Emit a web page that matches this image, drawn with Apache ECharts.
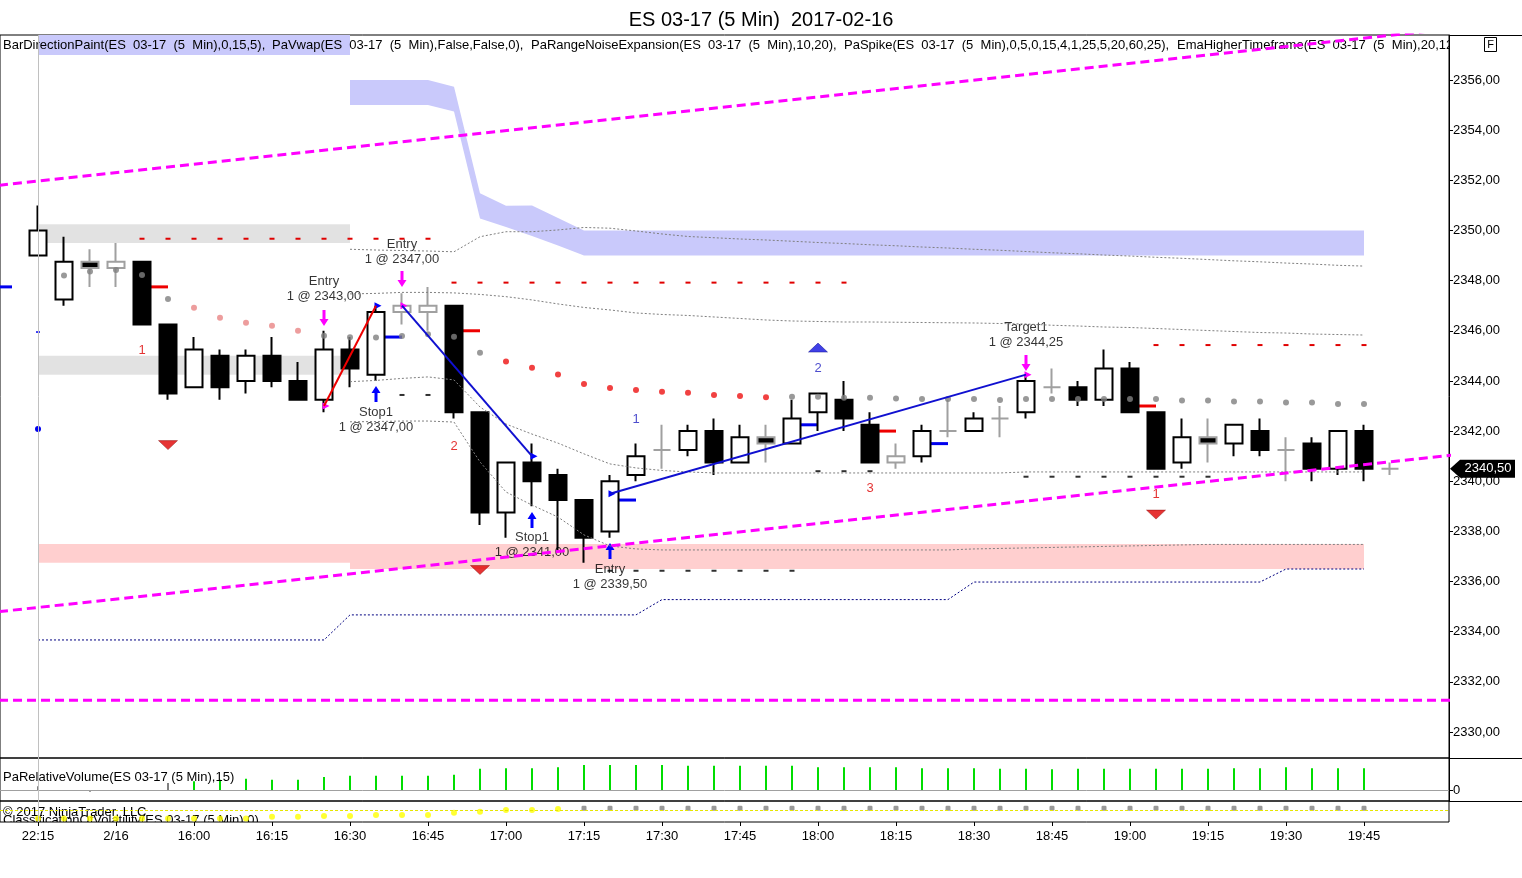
<!DOCTYPE html>
<html><head><meta charset="utf-8">
<script src="https://cdn.jsdelivr.net/npm/echarts@6/dist/echarts.min.js"></script>
<style>html,body{margin:0;padding:0;background:#fff}#c{width:1522px;height:878px}</style>
</head><body><div id="c"></div>
<script>
// ---------------- DATA ----------------
const timeLabels = ['22:15','2/16','16:00','16:15','16:30','16:45','17:00','17:15','17:30','17:45','18:00','18:15','18:30','18:45','19:00','19:15','19:30','19:45'];
const priceTicks = [2330,2332,2334,2336,2338,2340,2342,2344,2346,2348,2350,2352,2354,2356];
// [open, close, low, high] per 5-min bar
const ohlc = [
 [2349.00,2350.00,2349.00,2351.00],[2347.25,2348.75,2347.00,2349.75],[2348.75,2348.50,2347.75,2349.25],
 [2348.50,2348.75,2347.75,2349.50],[2348.75,2346.25,2346.25,2348.75],[2346.25,2343.50,2343.25,2346.25],
 [2343.75,2345.25,2343.75,2345.75],[2345.00,2343.75,2343.25,2345.25],[2344.00,2345.00,2343.50,2345.25],
 [2345.00,2344.00,2343.75,2345.75],[2344.00,2343.25,2343.25,2344.75],[2343.25,2345.25,2342.75,2346.00],
 [2345.25,2344.50,2343.75,2345.75],[2344.25,2346.75,2344.00,2347.00],[2346.75,2347.00,2346.25,2347.50],
 [2346.75,2347.00,2346.00,2347.75],[2347.00,2342.75,2342.50,2347.00],[2342.75,2338.75,2338.25,2342.75],
 [2338.75,2340.75,2337.75,2340.75],[2340.75,2340.00,2339.00,2341.50],[2340.25,2339.25,2337.25,2340.50],
 [2339.25,2337.75,2336.75,2339.25],[2338.00,2340.00,2337.75,2340.25],[2340.25,2341.00,2340.00,2341.50],
 [2341.25,2341.25,2340.50,2342.25],[2341.25,2342.00,2341.00,2342.25],[2342.00,2340.75,2340.25,2342.50],
 [2340.75,2341.75,2340.75,2342.25],[2341.75,2341.50,2340.75,2342.25],[2341.50,2342.50,2341.50,2343.25],
 [2342.75,2343.50,2342.00,2343.50],[2343.25,2342.50,2342.00,2344.00],[2342.25,2340.75,2340.75,2342.75],
 [2340.75,2341.00,2340.50,2341.50],[2341.00,2342.00,2340.75,2342.25],[2342.00,2342.00,2341.75,2343.25],
 [2342.00,2342.50,2342.00,2342.75],[2342.50,2342.50,2341.75,2343.00],[2342.75,2344.00,2342.50,2344.25],
 [2343.75,2343.75,2343.50,2344.50],[2343.75,2343.25,2343.00,2344.00],[2343.25,2344.50,2343.00,2345.25],
 [2344.50,2342.75,2342.75,2344.75],[2342.75,2340.50,2340.50,2342.75],[2340.75,2341.75,2340.50,2342.50],
 [2341.75,2341.50,2340.75,2342.50],[2341.50,2342.25,2341.00,2342.25],[2342.00,2341.25,2341.00,2342.50],
 [2341.25,2341.25,2340.00,2341.75],[2341.50,2340.50,2340.00,2341.75],[2340.50,2342.00,2340.25,2342.00],
 [2342.00,2340.50,2340.00,2342.25],[2340.50,2340.50,2340.25,2340.75]
];
const neutralBars = [2,3,14,15,24,28,33,35,37,39,45,48,52];

// PaVwap shaded band (bar index, upper, lower)
const vwapBandX     = [0,1,2,3,4,5,6,7,8,9,10,11,12,12,13,14,15,16,17,18,19,20,21,22,51];
const vwapBandUpper = [2358.5,2358.5,2358.5,2358.5,2358.5,2358.5,2358.5,2358.5,2358.5,2358.5,2358.5,2358.5,2358.5,2356.0,2356.0,2356.0,2356.0,2355.73,2351.48,2350.99,2351.0,2350.5,2350.0,2350.0,2350.0];
const vwapBandLower = [2357.0,2357.0,2357.0,2357.0,2357.0,2357.0,2357.0,2357.0,2357.0,2357.0,2357.0,2357.0,2357.0,2355.0,2355.0,2355.0,2355.0,2354.74,2350.48,2350.14,2349.78,2349.4,2349.0,2349.0,2349.0];

// Zones [fromBar, toBar, top, bottom]
const grayZones = [[0,12,2350.25,2349.5],[0,12,2345.0,2344.25]];
const pinkZones = [[0,12,2337.5,2336.75],[12,51,2337.5,2336.5]];

// thin dotted VWAP bands, starting at bar 12
const bandStart = 12;
const vwapLineA = [2349.25,2349.22,2349.20,2349.18,2349.15,2349.75,2349.95,2349.95,2350.02,2350.12,2350.09,2349.98,2349.86,2349.76,2349.71,2349.66,2349.62,2349.57,2349.52,2349.48,2349.43,2349.39,2349.34,2349.30,2349.25,2349.21,2349.16,2349.11,2349.07,2349.02,2348.98,2348.93,2348.89,2348.84,2348.79,2348.75,2348.70,2348.66,2348.61,2348.58];
const vwapLineB = [2347.47,2347.49,2347.53,2347.53,2347.51,2347.45,2347.36,2347.23,2347.07,2346.93,2346.83,2346.71,2346.65,2346.61,2346.55,2346.49,2346.43,2346.39,2346.37,2346.35,2346.35,2346.34,2346.33,2346.32,2346.31,2346.29,2346.27,2346.22,2346.19,2346.15,2346.13,2346.09,2346.05,2346.01,2345.97,2345.93,2345.91,2345.87,2345.85,2345.83];
const vwapLineC = [2343.97,2344.02,2344.10,2344.16,2344.04,2342.96,2342.28,2341.88,2341.52,2341.09,2340.69,2340.53,2340.43,2340.37,2340.33,2340.33,2340.33,2340.33,2340.33,2340.33,2340.33,2340.33,2340.33,2340.33,2340.33,2340.33,2340.37,2340.37,2340.37,2340.37,2340.37,2340.37,2340.37,2340.37,2340.37,2340.37,2340.37,2340.37,2340.37,2340.37];
const vwapLineD = [2342.37,2342.38,2342.40,2342.40,2342.36,2340.77,2339.57,2339.05,2338.57,2337.86,2337.42,2337.30,2337.26,2337.26,2337.26,2337.26,2337.26,2337.26,2337.26,2337.26,2337.26,2337.26,2337.26,2337.26,2337.30,2337.32,2337.34,2337.36,2337.38,2337.40,2337.42,2337.44,2337.46,2337.48,2337.48,2337.48,2337.48,2337.48,2337.48,2337.48];

const navyLevels = [2333.67,2333.67,2333.67,2333.67,2333.67,2333.67,2333.67,2333.67,2333.67,2333.67,2333.67,2333.67,
 2334.67,2334.67,2334.67,2334.67,2334.67,2334.67,2334.67,2334.67,2334.67,2334.67,2334.67,2334.67,
 2335.28,2335.28,2335.28,2335.28,2335.28,2335.28,2335.28,2335.28,2335.28,2335.28,2335.28,2335.28,
 2335.98,2335.98,2335.98,2335.98,2335.98,2335.98,2335.98,2335.98,2335.98,2335.98,2335.98,2335.98,
 2336.5,2336.5,2336.5,2336.5];

// EMA higher timeframe dots
const emaValues = [null,2348.20,2348.36,2348.42,2348.22,2347.27,2346.92,2346.52,2346.32,2346.20,2346.00,2345.80,2345.74,2345.73,2345.79,2345.86,2345.76,2345.12,2344.77,2344.53,2344.26,2343.88,2343.72,2343.64,2343.57,2343.53,2343.44,2343.40,2343.35,2343.37,2343.37,2343.33,2343.33,2343.30,2343.28,2343.28,2343.28,2343.24,2343.28,2343.28,2343.28,2343.28,2343.28,2343.28,2343.22,2343.22,2343.18,2343.18,2343.14,2343.14,2343.08,2343.08];
const emaSalmonBars = [6,7,8,9,10];
const emaRedBars = [18,19,20,21,22,23,24,25,26,27,28];

// range-noise dashes [bar, price]
const redDashes = [[4,2349.67],[5,2349.67],[6,2349.67],[7,2349.67],[8,2349.67],[9,2349.67],[10,2349.67],[11,2349.67],[12,2349.67],[13,2349.67],[14,2349.67],[15,2349.67],
 [16,2347.92],[17,2347.92],[18,2347.92],[19,2347.92],[20,2347.92],[21,2347.92],[22,2347.92],[23,2347.92],[24,2347.92],[25,2347.92],[26,2347.92],[27,2347.92],[28,2347.92],[29,2347.92],[30,2347.92],[31,2347.92],
 [43,2345.43],[44,2345.43],[45,2345.43],[46,2345.43],[47,2345.43],[48,2345.43],[49,2345.43],[50,2345.43],[51,2345.43]];
const darkDashes = [[14,2343.44],[15,2343.44],[22,2336.43],[23,2336.43],[24,2336.43],[25,2336.43],[26,2336.43],[27,2336.43],[28,2336.43],[29,2336.43],
 [30,2340.4],[31,2340.4],[32,2340.4],[38,2340.18],[39,2340.18],[40,2340.18],[41,2340.18],[42,2340.18],[43,2340.18],[44,2340.18],[45,2340.18]];

// short level marks [bar, price]
const blueMarks = [[-2,2347.75],[13,2345.75],[22,2339.25],[29,2342.25],[34,2341.5]];
const redMarks = [[4,2347.75],[16,2346.0],[32,2342.0],[42,2343.0]];
const blueDots = [[0,2342.08]];
const blueTicks = [[0,2345.95]];

// trades
const tradeRed = [[11,2343.0],[13,2347.0]];
const tradeBlue1 = [[14,2347.0],[19,2341.0]];
const tradeBlue2 = [[22,2339.5],[38,2344.25]];
const entryArrows = [[11,2346.51],[14,2348.06],[38,2344.71]];
const stopArrows = [[13,2343.48],[19,2338.45],[22,2337.22]];
const magentaFills = [[11,2343.0],[14,2347.0],[38,2344.25]];
const blueFills = [[13,2347.0],[19,2341.0],[22,2339.5]];
const tradeTexts = [[11,2347.65,'Entry\n1 @ 2343,00'],[14,2349.16,'Entry\n1 @ 2347,00'],[13,2342.46,'Stop1\n1 @ 2347,00'],
 [19,2337.48,'Stop1\n1 @ 2341,00'],[22,2336.2,'Entry\n1 @ 2339,50'],[38,2345.85,'Target1\n1 @ 2344,25']];

// PaSpike
const spikeDown = [[5,2341.44],[17,2336.46],[43,2338.67]];
const spikeUp = [[30,2345.33]];
const redCounts = [[4,2345.23,'1'],[16,2341.4,'2'],[32,2339.73,'3'],[43,2339.49,'1']];
const blueCounts = [[23,2342.48,'1'],[30,2344.48,'2']];

// channel lines [bar, price]
const channelUpper = [[-1.5,2351.8],[55,2358.12]];
const channelLower = [[-1.5,2334.8],[55,2341.11]];
const channelFlat = [[-1.5,2331.27],[55,2331.27]];

// relative volume (null = none)
const volumeValues = [0.4,null,-0.15,null,null,0.73,0.9,1.07,1.17,1.07,1.07,1.33,1.47,1.47,1.47,1.47,1.57,2.17,2.23,2.23,2.33,2.57,2.57,2.57,2.57,2.47,2.47,2.47,2.47,2.47,2.33,2.33,2.33,2.33,2.23,2.23,2.23,2.17,2.17,2.13,2.17,2.17,2.17,2.17,2.17,2.17,2.23,2.23,2.33,2.23,2.23,2.23];
const volumeGreenFrom = 6;
// volatility classification
const volatilityValues = [3.5,3.5,3.5,3.5,3.5,3.5,3.5,3.5,3.5,5.3,5.3,6,6,7,7,7,9.3,10.3,12,12,13,13.7,13.7,13.7,13.7,13.7,13.7,13.7,13.7,13.7,13.7,13.7,13.7,13.7,13.7,13.7,13.7,13.7,13.7,13.7,13.7,13.7,13.7,13.7,13.7,13.7,13.7,13.7,13.7,13.7,13.7,13.7];
const volatilityYellowUntil = 20;
const volatilityLevel = 11.3;

// ---------------- LAYOUT ----------------
const FONT = '"Liberation Sans", Arial, sans-serif';
const PLOT_W = 1449, BAR_PX = 26, FIRST_X = 38;
const xMin = -FIRST_X / BAR_PX, xMax = (PLOT_W - FIRST_X) / BAR_PX;
const PX_PER_PT = 652 / 26;
const yMin = 2330 - 26 / PX_PER_PT, yMax = 2356 + 45 / PX_PER_PT;
const fmtPrice = v => v.toFixed(2).replace('.', ',');
const lastClose = ohlc[ohlc.length - 1][1];

const chart = echarts.init(document.getElementById('c'));

const candleData = ohlc.map((r, i) => {
  const item = { value: [i, r[0], r[1], r[2], r[3]] };
  if (neutralBars.indexOf(i) >= 0) item.itemStyle = { borderColor: '#a0a0a0', borderColor0: '#a0a0a0', borderColorDoji: '#a0a0a0' };
  return item;
});

function rectZones(zones, fill) {
  return { type: 'custom', xAxisIndex: 0, yAxisIndex: 0, clip: true, silent: true, data: zones,
    renderItem: (p, api) => {
      const a = api.coord([api.value(0), api.value(2)]);
      const b = api.coord([api.value(1), api.value(3)]);
      return { type: 'rect', shape: { x: a[0], y: a[1], width: b[0] - a[0], height: b[1] - a[1] }, style: { fill } };
    } };
}
function bandLine(vals, color) {
  return { type: 'line', xAxisIndex: 0, yAxisIndex: 0, showSymbol: false, silent: true,
    data: vals.map((v, k) => [bandStart + k, v]), lineStyle: { color: color, width: 1, type: [2, 2] } };
}
function segMarks(marks, color) {
  return { type: 'custom', xAxisIndex: 0, yAxisIndex: 0, clip: true, silent: true, data: marks,
    renderItem: (p, api) => {
      const a = api.coord([api.value(0), api.value(1)]);
      const b = api.coord([api.value(0) + 1, api.value(1)]);
      return { type: 'line', shape: { x1: a[0], y1: a[1], x2: b[0], y2: b[1] }, style: { stroke: color, lineWidth: 3 } };
    } };
}
function textLayer(gi, anchor, items) {
  return { type: 'custom', xAxisIndex: gi, yAxisIndex: gi, clip: true, silent: true, data: [anchor],
    renderItem: (p) => {
      const cs = p.coordSys;
      return { type: 'group', children: items.map(it => ({ type: 'text', x: cs.x + it[0], y: cs.y + it[1],
        style: { text: it[2], fill: '#000', fontSize: it[3] || 13, fontFamily: FONT, textVerticalAlign: 'middle' } })) };
    } };
}
function scatter(data, sym, size, color, extra) {
  return Object.assign({ type: 'scatter', xAxisIndex: 0, yAxisIndex: 0, silent: true, data: data, symbol: sym,
    symbolSize: size, itemStyle: { color: color, opacity: 1 } }, extra || {});
}
function labels(data, color) {
  return { type: 'scatter', xAxisIndex: 0, yAxisIndex: 0, silent: true, data: data, symbolSize: 1,
    itemStyle: { color: 'rgba(0,0,0,0)' },
    label: { show: true, position: 'inside', formatter: p => p.data[2], color: color, fontSize: 13, fontFamily: FONT, lineHeight: 15, align: 'center' } };
}
const sessionLine = { silent: true, symbol: 'none', label: { show: false },
  lineStyle: { color: '#c0c0c0', width: 1, type: 'solid' }, data: [{ xAxis: 0 }] };

const series = [
  // lavender band
  { type: 'custom', xAxisIndex: 0, yAxisIndex: 0, clip: true, silent: true, data: [[0, 2340]],
    renderItem: (p, api) => {
      const pts = [];
      for (let k = 0; k < vwapBandX.length; k++) pts.push(api.coord([vwapBandX[k], vwapBandUpper[k]]));
      for (let k = vwapBandX.length - 1; k >= 0; k--) pts.push(api.coord([vwapBandX[k], vwapBandLower[k]]));
      return { type: 'polygon', shape: { points: pts }, style: { fill: '#c9c9fb' } };
    } },
  // header indicator text
  textLayer(0, [0, 2340], [
    [3, 10, 'BarDirectionPaint(ES  03-17  (5  Min),0,15,5),'],
    [272, 10, 'PaVwap(ES  03-17  (5  Min),False,False,0),'],
    [531, 10, 'PaRangeNoiseExpansion(ES  03-17  (5  Min),10,20),'],
    [844, 10, 'PaSpike(ES  03-17  (5  Min),0,5,0,15,4,1,25,5,20,60,25),'],
    [1177, 10, 'EmaHigherTimeframe(ES  03-17  (5  Min),20,120)']
  ]),
  rectZones(pinkZones, 'rgba(255,140,140,0.42)'),
  bandLine(vwapLineA, '#808080'), bandLine(vwapLineB, '#808080'), bandLine(vwapLineC, '#808080'), bandLine(vwapLineD, '#808080'),
  { type: 'line', xAxisIndex: 0, yAxisIndex: 0, showSymbol: false, silent: true,
    data: navyLevels.map((v, i) => [i, v]), lineStyle: { color: '#000080', width: 1, type: [2, 2] }, markLine: sessionLine },
  scatter(redDashes, 'rect', [5, 2], '#e00000'),
  scatter(darkDashes, 'rect', [5, 2], '#303030'),
  { type: 'candlestick', xAxisIndex: 0, yAxisIndex: 0, barWidth: 18, silent: true,
    encode: { x: 0, y: [1, 2, 3, 4] }, data: candleData,
    itemStyle: { color: '#ffffff', color0: '#000000', borderColor: '#000000', borderColor0: '#000000', borderColorDoji: '#000000', borderWidth: 2 } },
  rectZones(grayZones, 'rgba(160,160,160,0.3)'),
  scatter(emaValues.map((v, i) => v == null ? null : [i, v]).filter(d => d), 'circle', 6, '#808080', {
    itemStyle: { color: p => emaRedBars.indexOf(p.data[0]) >= 0 ? '#ee1111' : (emaSalmonBars.indexOf(p.data[0]) >= 0 ? '#e88484' : '#808080') } }),
  segMarks(blueMarks, '#0000ee'),
  segMarks(redMarks, '#ee0000'),
  scatter(blueDots, 'circle', 6, '#0000ee'),
  scatter(blueTicks, 'rect', [4, 1.5], '#0000ee'),
  { type: 'line', xAxisIndex: 0, yAxisIndex: 0, showSymbol: false, silent: true, data: tradeRed, lineStyle: { color: '#ee0000', width: 2 } },
  { type: 'line', xAxisIndex: 0, yAxisIndex: 0, showSymbol: false, silent: true, data: tradeBlue1, lineStyle: { color: '#1010d0', width: 2 } },
  { type: 'line', xAxisIndex: 0, yAxisIndex: 0, showSymbol: false, silent: true, data: tradeBlue2, lineStyle: { color: '#1010d0', width: 2 } },
  { type: 'line', xAxisIndex: 0, yAxisIndex: 0, showSymbol: false, silent: true, data: channelUpper, lineStyle: { color: '#ff00ff', width: 3, type: [9, 5] } },
  { type: 'line', xAxisIndex: 0, yAxisIndex: 0, showSymbol: false, silent: true, data: channelLower, lineStyle: { color: '#ff00ff', width: 3, type: [9, 5] } },
  { type: 'line', xAxisIndex: 0, yAxisIndex: 0, showSymbol: false, silent: true, data: channelFlat, lineStyle: { color: '#ff00ff', width: 3, type: [9, 5] } },
  scatter(entryArrows, 'path://M3,0L6,0L6,9L9,9L4.5,16L0,9L3,9Z', [9, 16], '#ff00ff'),
  scatter(stopArrows, 'path://M4.5,0L9,7L6,7L6,16L3,16L3,7L0,7Z', [9, 16], '#0000ff'),
  scatter(magentaFills, 'triangle', [7, 7], '#ff00ff', { symbolRotate: -90, symbolOffset: [2, 0] }),
  scatter(blueFills, 'triangle', [7, 7], '#0000ff', { symbolRotate: -90, symbolOffset: [2, 0] }),
  scatter(spikeDown, 'path://M0,0L20,0L10,10Z', [19, 9], '#e00000', { itemStyle: { color: '#e00000', borderColor: '#800000', borderWidth: 0.5 } }),
  scatter(spikeUp, 'path://M10,0L20,10L0,10Z', [19, 9], '#1010e0', { itemStyle: { color: '#1010e0', borderColor: '#000080', borderWidth: 0.5 } }),
  labels(tradeTexts, '#000'),
  labels(redCounts, '#dd0000'),
  labels(blueCounts, '#2020c0'),
  // volume panel
  { type: 'custom', xAxisIndex: 1, yAxisIndex: 1, clip: true, silent: true,
    data: volumeValues.map((v, i) => v == null ? null : [i, v]).filter(d => d),
    renderItem: (p, api) => {
      const i = api.value(0);
      const a = api.coord([i, 0]), b = api.coord([i, api.value(1)]);
      return { type: 'rect', shape: { x: a[0] - 1, y: Math.min(a[1], b[1]), width: 2, height: Math.max(1, Math.abs(b[1] - a[1])) },
        style: { fill: i >= volumeGreenFrom ? '#00dd00' : '#808080' } };
    },
    markLine: { silent: true, symbol: 'none', label: { show: false }, data: [
      { yAxis: 0, lineStyle: { color: '#a0a0a0', width: 1, type: 'solid' } },
      { xAxis: 0, lineStyle: { color: '#c0c0c0', width: 1, type: 'solid' } }] } },
  textLayer(1, [0, 0], [[3, 19, 'PaRelativeVolume(ES 03-17 (5 Min),15)']]),
  // volatility panel
  { type: 'scatter', xAxisIndex: 2, yAxisIndex: 2, silent: true,
    data: volatilityValues.map((v, i) => ({ value: [i, v], symbol: i <= volatilityYellowUntil ? 'circle' : 'roundRect',
      symbolSize: i <= volatilityYellowUntil ? 6 : 5, itemStyle: { color: i <= volatilityYellowUntil ? '#ffff00' : '#808080' } })),
    markLine: { silent: true, symbol: 'none', label: { show: false }, data: [
      { yAxis: volatilityLevel, lineStyle: { color: '#e6e600', width: 1, type: [3, 2] } },
      { xAxis: 0, lineStyle: { color: '#c0c0c0', width: 1, type: 'solid' } }] } },
  textLayer(2, [0, 5], [[3, 19.5, 'ClassificationOfVolatility(ES 03-17 (5 Min),0)'], [3, 11, '© 2017 NinjaTrader, LLC']])
];

const frameGraphics = [
  { type: 'line', shape: { x1: PLOT_W, y1: 35.5, x2: 1522, y2: 35.5 }, style: { stroke: '#000', lineWidth: 1 }, z: 50 },
  { type: 'line', shape: { x1: PLOT_W, y1: 758.5, x2: 1522, y2: 758.5 }, style: { stroke: '#000', lineWidth: 1 }, z: 50 },
  { type: 'line', shape: { x1: PLOT_W, y1: 801.5, x2: 1522, y2: 801.5 }, style: { stroke: '#000', lineWidth: 1 }, z: 50 },
  { type: 'rect', shape: { x: 1484.5, y: 37.5, width: 12, height: 14 }, style: { fill: '#fff', stroke: '#000', lineWidth: 1 }, z: 50 },
  { type: 'text', x: 1490.5, y: 45, style: { text: 'F', fontSize: 11, fontFamily: FONT, fill: '#000', textAlign: 'center', textVerticalAlign: 'middle' }, z: 51 }
];

const option = {
  animation: false,
  backgroundColor: '#ffffff',
  title: { text: 'ES 03-17 (5 Min)  2017-02-16', left: 'center', top: 5,
    textStyle: { fontSize: 20, fontWeight: 'normal', color: '#000', fontFamily: FONT } },
  grid: [
    { left: 0, top: 35, width: PLOT_W, height: 723, show: true, borderColor: '#000', borderWidth: 1 },
    { left: 0, top: 758, width: PLOT_W, height: 43, show: true, borderColor: '#000', borderWidth: 1 },
    { left: 0, top: 801, width: PLOT_W, height: 21, show: true, borderColor: '#000', borderWidth: 1 }
  ],
  xAxis: [
    { type: 'value', gridIndex: 0, min: xMin, max: xMax, show: false },
    { type: 'value', gridIndex: 1, min: xMin, max: xMax, show: false },
    { type: 'value', gridIndex: 2, min: xMin, max: xMax, position: 'bottom',
      axisLine: { show: false, onZero: false }, splitLine: { show: false },
      axisTick: { show: true, customValues: timeLabels.map((t, k) => k * 3), length: 4, lineStyle: { color: '#000' } },
      axisLabel: { customValues: timeLabels.map((t, k) => k * 3), formatter: v => timeLabels[Math.round(v / 3)],
        color: '#000', fontSize: 13, fontFamily: FONT, margin: 8 } }
  ],
  yAxis: [
    { type: 'value', gridIndex: 0, position: 'right', min: yMin, max: yMax, scale: true,
      axisLine: { show: true, onZero: false, lineStyle: { color: '#000' } }, splitLine: { show: false },
      axisTick: { show: true, customValues: priceTicks, length: 4, lineStyle: { color: '#000' } },
      axisLabel: { customValues: priceTicks, formatter: fmtPrice, color: '#000', fontSize: 13, fontFamily: FONT, margin: 4 } },
    { type: 'value', gridIndex: 1, position: 'right', min: -1.1, max: 3.27,
      axisLine: { show: true, onZero: false, lineStyle: { color: '#000' } }, splitLine: { show: false },
      axisTick: { show: true, customValues: [0], length: 4, lineStyle: { color: '#000' } },
      axisLabel: { customValues: [0], color: '#000', fontSize: 13, fontFamily: FONT, margin: 4 } },
    { type: 'value', gridIndex: 2, position: 'right', min: 0, max: 21, show: false, axisLine: { onZero: false } }
  ],
  graphic: frameGraphics,
  series: series
};
chart.setOption(option);

// last price tag on the price axis
const tagY = chart.convertToPixel({ yAxisIndex: 0 }, lastClose);
chart.setOption({ graphic: frameGraphics.concat([
  { type: 'polygon', shape: { points: [[PLOT_W + 1, tagY], [PLOT_W + 11, tagY - 9], [1515, tagY - 9], [1515, tagY + 9], [PLOT_W + 11, tagY + 9]] },
    style: { fill: '#000' }, z: 60 },
  { type: 'text', x: 1488, y: tagY, style: { text: fmtPrice(lastClose), fill: '#fff', fontSize: 13, fontFamily: FONT, textAlign: 'center', textVerticalAlign: 'middle' }, z: 61 }
]) });
</script>
</body></html>
